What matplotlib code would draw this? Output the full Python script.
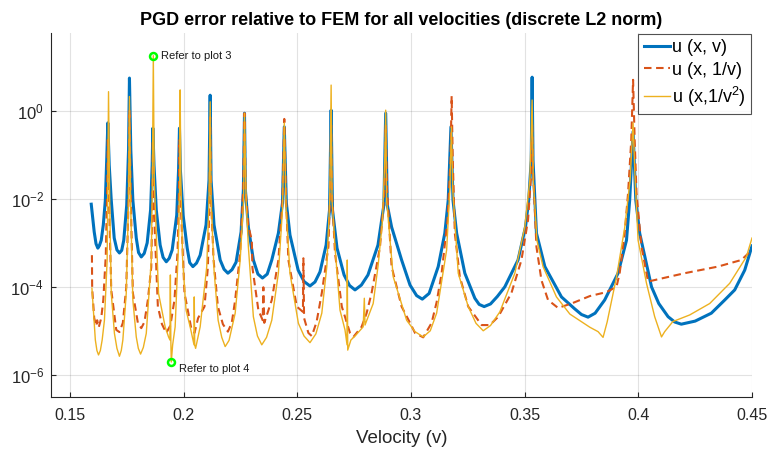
import numpy as np
import matplotlib
matplotlib.use('Agg')
import matplotlib.pyplot as plt
from matplotlib.ticker import NullLocator

plt.rcParams['font.family'] = ['Liberation Sans', 'DejaVu Sans']
plt.rcParams['mathtext.fontset'] = 'custom'
plt.rcParams['mathtext.rm'] = 'Liberation Sans'
plt.rcParams['mathtext.it'] = 'Liberation Sans:italic'
plt.rcParams['mathtext.bf'] = 'Liberation Sans:bold'

# ---- data: velocity and log10(error) ----
u_v_vel = [0.1594, 0.1607, 0.1615, 0.1623, 0.1630, 0.1638, 0.1647, 0.1656, 0.1662, 0.1667,
           0.1673, 0.1682, 0.1695, 0.1707, 0.1718, 0.1728, 0.1737, 0.1750, 0.1758, 0.1762,
           0.1768, 0.1777, 0.1792, 0.1802, 0.1814, 0.1827, 0.1840, 0.1855, 0.1862, 0.1865,
           0.1870, 0.1880, 0.1897, 0.1910, 0.1924, 0.1937, 0.1950, 0.1970, 0.1978, 0.1982,
           0.1986, 0.1998, 0.2016, 0.2027, 0.2041, 0.2057, 0.2073, 0.2099, 0.2112, 0.2117,
           0.2121, 0.2134, 0.2161, 0.2178, 0.2195, 0.2213, 0.2231, 0.2253, 0.2263, 0.2268,
           0.2272, 0.2285, 0.2307, 0.2327, 0.2347, 0.2368, 0.2388, 0.2417, 0.2435, 0.2443,
           0.2452, 0.2468, 0.2504, 0.2530, 0.2556, 0.2578, 0.2600, 0.2627, 0.2642, 0.2649,
           0.2655, 0.2675, 0.2706, 0.2730, 0.2754, 0.2782, 0.2811, 0.2855, 0.2881, 0.2889,
           0.2896, 0.2915, 0.2959, 0.2996, 0.3025, 0.3050, 0.3080, 0.3120, 0.3149, 0.3164,
           0.3176, 0.3185, 0.3201, 0.3237, 0.3281, 0.3300, 0.3322, 0.3350, 0.3380, 0.3413,
           0.3471, 0.3504, 0.3518, 0.3529, 0.3533, 0.3537, 0.3552, 0.3589, 0.3662, 0.3720,
           0.3750, 0.3779, 0.3810, 0.3852, 0.3911, 0.3948, 0.3962, 0.3977, 0.3989, 0.4006,
           0.4058, 0.4090, 0.4131, 0.4160, 0.4189, 0.4250, 0.4321, 0.4380, 0.4424, 0.4468,
           0.4500]
u_v_log = [-2.12, -2.75, -3.02, -3.12, -3.06, -2.94, -2.59, -2.03, -1.12, -0.27,
           -1.23, -2.03, -2.89, -3.16, -3.23, -3.17, -2.94, -2.14, -0.89, 0.75,
           -0.89, -2.03, -2.89, -3.22, -3.32, -3.24, -3.00, -2.25, -1.23, -0.39,
           -1.23, -2.25, -3.05, -3.33, -3.43, -3.35, -3.16, -2.37, -1.34, -0.39,
           -1.34, -2.37, -3.12, -3.45, -3.54, -3.46, -3.28, -2.59, -1.57, 0.36,
           -1.57, -2.59, -3.39, -3.60, -3.69, -3.61, -3.44, -2.75, -1.80, -0.05,
           -1.80, -2.64, -3.39, -3.71, -3.80, -3.71, -3.39, -2.78, -2.09, -0.36,
           -2.09, -2.82, -3.62, -3.88, -3.98, -3.89, -3.66, -3.05, -2.25, 0.02,
           -2.25, -3.12, -3.73, -3.97, -4.07, -3.96, -3.73, -3.05, -2.14, -0.05,
           -2.14, -2.64, -3.39, -3.96, -4.20, -4.28, -4.15, -3.54, -2.78, -2.03,
           -0.36, -2.03, -2.78, -3.69, -4.26, -4.40, -4.45, -4.39, -4.22, -4.00,
           -3.39, -2.63, -2.03, -1.12, 0.77, -1.12, -2.78, -3.54, -4.23, -4.50,
           -4.63, -4.69, -4.60, -4.30, -3.69, -2.94, -2.03, -0.47, -2.03, -2.78,
           -4.00, -4.38, -4.68, -4.80, -4.85, -4.78, -4.60, -4.30, -4.07, -3.62,
           -3.07]

u_inv_vel = [0.1597, 0.1598, 0.1607, 0.1616, 0.1620, 0.1627, 0.1638, 0.1647, 0.1658, 0.1664,
             0.1667, 0.1671, 0.1682, 0.1704, 0.1718, 0.1733, 0.1748, 0.1758, 0.1762, 0.1768,
             0.1777, 0.1799, 0.1814, 0.1828, 0.1843, 0.1858, 0.1863, 0.1865, 0.1868, 0.1887,
             0.1905, 0.1924, 0.1942, 0.1960, 0.1974, 0.1980, 0.1982, 0.1985, 0.2004, 0.2033,
             0.2048, 0.2064, 0.2092, 0.2107, 0.2114, 0.2117, 0.2121, 0.2132, 0.2151, 0.2173,
             0.2195, 0.2212, 0.2227, 0.2249, 0.2262, 0.2268, 0.2273, 0.2284, 0.2300, 0.2303,
             0.2329, 0.2348, 0.2351, 0.2355, 0.2388, 0.2417, 0.2435, 0.2443, 0.2451, 0.2461,
             0.2498, 0.2525, 0.2527, 0.2530, 0.2549, 0.2564, 0.2585, 0.2608, 0.2637, 0.2645,
             0.2649, 0.2652, 0.2666, 0.2696, 0.2732, 0.2747, 0.2783, 0.2805, 0.2827, 0.2864,
             0.2884, 0.2889, 0.2895, 0.2915, 0.2959, 0.2996, 0.3018, 0.3054, 0.3091, 0.3113,
             0.3135, 0.3161, 0.3174, 0.3179, 0.3184, 0.3193, 0.3215, 0.3252, 0.3311, 0.3347,
             0.3384, 0.3442, 0.3486, 0.3515, 0.3530, 0.3533, 0.3537, 0.3552, 0.3574, 0.3603,
             0.3647, 0.3706, 0.3787, 0.3860, 0.3904, 0.3918, 0.3940, 0.3955, 0.3969, 0.3977,
             0.3984, 0.3992, 0.4014, 0.4043, 0.4102, 0.4204, 0.4350, 0.4453, 0.4500]
u_inv_log = [-3.28, -4.03, -4.71, -4.89, -4.76, -4.92, -4.71, -4.30, -3.28, -1.80,
             -0.66, -1.80, -4.07, -4.98, -5.03, -4.82, -4.01, -2.03, 0.02, -2.03,
             -4.14, -4.82, -4.94, -4.80, -4.30, -3.55, -2.03, -0.66, -2.03, -4.45,
             -4.85, -5.05, -4.88, -4.30, -3.16, -1.80, -0.66, -1.80, -4.14, -4.92,
             -5.05, -4.71, -4.45, -3.55, -2.03, -0.14, -2.03, -3.39, -4.45, -4.85,
             -5.02, -4.82, -4.30, -3.23, -1.80, -0.05, -1.80, -2.59, -2.94, -3.57,
             -4.53, -4.76, -4.01, -4.82, -4.30, -3.39, -2.03, -0.18, -2.03, -3.39,
             -4.45, -4.57, -3.35, -4.71, -5.05, -5.12, -4.80, -4.14, -3.09, -1.80,
             -0.32, -1.80, -3.23, -4.45, -5.05, -5.14, -4.91, -4.60, -4.14, -3.09,
             -1.80, -0.32, -1.80, -3.54, -4.45, -4.82, -5.05, -5.15, -4.82, -4.35,
             -3.69, -2.48, -1.12, 0.34, -1.12, -2.78, -3.77, -4.45, -4.87, -4.87,
             -4.68, -4.14, -3.39, -2.48, -1.34, -0.32, -1.34, -3.09, -3.85, -4.30,
             -4.48, -4.38, -4.21, -4.12, -4.00, -3.69, -2.78, -1.87, -0.66, 0.71,
             -0.66, -1.87, -3.09, -3.88, -3.81, -3.69, -3.54, -3.39, -3.16]

u_inv2_vel = [0.1597, 0.1612, 0.1619, 0.1626, 0.1634, 0.1642, 0.1652, 0.1664, 0.1670, 0.1675,
              0.1682, 0.1696, 0.1707, 0.1718, 0.1726, 0.1733, 0.1748, 0.1758, 0.1762, 0.1767,
              0.1777, 0.1792, 0.1801, 0.1811, 0.1823, 0.1836, 0.1858, 0.1863, 0.1867, 0.1871,
              0.1890, 0.1919, 0.1934, 0.1940, 0.1942, 0.1944, 0.1946, 0.1952, 0.1963, 0.1977,
              0.1983, 0.1985, 0.1988, 0.1996, 0.2011, 0.2029, 0.2046, 0.2047, 0.2049, 0.2053,
              0.2073, 0.2102, 0.2112, 0.2117, 0.2121, 0.2134, 0.2152, 0.2168, 0.2183, 0.2200,
              0.2227, 0.2249, 0.2264, 0.2268, 0.2275, 0.2285, 0.2307, 0.2325, 0.2344, 0.2365,
              0.2388, 0.2417, 0.2435, 0.2443, 0.2451, 0.2468, 0.2505, 0.2530, 0.2556, 0.2582,
              0.2608, 0.2630, 0.2643, 0.2649, 0.2653, 0.2666, 0.2688, 0.2710, 0.2719, 0.2720,
              0.2722, 0.2736, 0.2754, 0.2790, 0.2795, 0.2798, 0.2834, 0.2856, 0.2875, 0.2885,
              0.2889, 0.2893, 0.2922, 0.2981, 0.3018, 0.3054, 0.3085, 0.3113, 0.3157, 0.3171,
              0.3178, 0.3184, 0.3208, 0.3252, 0.3286, 0.3318, 0.3350, 0.3391, 0.3457, 0.3501,
              0.3523, 0.3533, 0.3538, 0.3554, 0.3581, 0.3640, 0.3699, 0.3787, 0.3823, 0.3845,
              0.3863, 0.3904, 0.3940, 0.3964, 0.3977, 0.3986, 0.3999, 0.4036, 0.4072, 0.4102,
              0.4116, 0.4152, 0.4226, 0.4314, 0.4402, 0.4475, 0.4500]
u_inv2_log = [-4.03, -5.21, -5.45, -5.55, -5.45, -5.21, -4.76, -3.39, 0.44, -2.03,
              -4.15, -5.06, -5.40, -5.58, -5.45, -5.21, -4.14, -2.03, 0.33, -2.03,
              -4.30, -5.14, -5.40, -5.53, -5.38, -5.06, -3.39, -1.57, 1.26, -1.57,
              -4.15, -4.91, -5.14, -5.21, -3.73, -5.21, -5.71, -5.32, -4.91, -3.16,
              -1.57, 0.48, -1.57, -3.39, -4.53, -4.91, -5.32, -4.23, -5.32, -5.40,
              -4.91, -3.54, -2.03, 0.21, -2.03, -3.62, -4.76, -5.15, -5.36, -5.22,
              -4.60, -3.39, -2.03, -0.05, -2.03, -3.09, -4.68, -5.12, -5.32, -5.15,
              -4.76, -3.69, -2.25, -0.27, -2.25, -3.69, -4.83, -5.12, -5.27, -5.07,
              -4.60, -3.54, -2.03, 0.59, -2.03, -3.09, -4.53, -4.98, -5.32, -3.39,
              -5.44, -5.21, -5.12, -4.91, -4.26, -4.87, -4.38, -3.50, -2.48, -1.12,
              0.02, -2.03, -3.77, -4.76, -5.02, -5.14, -5.00, -4.60, -3.16, -1.80,
              -0.36, -1.80, -3.69, -4.45, -4.83, -5.00, -4.88, -4.57, -3.69, -2.63,
              -1.57, 0.25, -1.57, -2.94, -3.54, -4.23, -4.62, -4.92, -5.02, -5.15,
              -4.80, -3.78, -2.66, -1.57, -0.27, -1.57, -2.94, -3.92, -4.68, -5.14,
              -5.02, -4.79, -4.64, -4.38, -3.92, -3.32, -2.89]

note_vel = [0.1867, 0.1946]
note_log = [1.258, -5.711]
note_text = ['Refer to plot 3', 'Refer to plot 4']

legend_labels = ['u (x, v)', 'u (x, 1/v)', r'u (x,1/v$^2$)']
xtick_vals = [0.15, 0.2, 0.25, 0.3, 0.35, 0.4, 0.45]
xtick_labels = ['0.15', '0.2', '0.25', '0.3', '0.35', '0.4', '0.45']
ytick_exp = [-6, -4, -2, 0]

# ---- figure ----
fig = plt.figure(figsize=(7.68, 4.55), dpi=100)
ax = fig.add_axes([51 / 768, 58.3 / 455, 701 / 768, 363.7 / 455])

ax.plot(u_v_vel, 10 ** np.array(u_v_log), color='#0072BD', lw=2.2, label=legend_labels[0])
ax.plot(u_inv_vel, 10 ** np.array(u_inv_log), color='#D95319', lw=1.5,
        linestyle=(0, (3.6, 2.2)), label=legend_labels[1])
ax.plot(u_inv2_vel, 10 ** np.array(u_inv2_log), color='#EDB120', lw=1.0, label=legend_labels[2])

ax.set_yscale('log')
ax.set_xlim(0.1417, 0.45)
ax.set_ylim(10 ** -6.5, 10 ** 1.775)

ax.set_xticks(xtick_vals)
ax.set_xticklabels(xtick_labels)
ax.set_yticks([10.0 ** e for e in ytick_exp])
ax.set_yticklabels([r'$10^{%d}$' % e for e in ytick_exp])
ax.yaxis.set_minor_locator(NullLocator())
ax.tick_params(direction='in', length=3.5, width=0.8, colors='#262626', labelsize=11.5)
ax.tick_params(axis='x', pad=8)
ax.tick_params(axis='y', pad=5, labelsize=12)

for s in ['top', 'right']:
    ax.spines[s].set_visible(False)
for s in ['left', 'bottom']:
    ax.spines[s].set_color('#262626')
    ax.spines[s].set_linewidth(0.8)

ax.grid(True, color='#262626', alpha=0.13, lw=0.8)
ax.set_axisbelow(True)

ax.set_xlabel('Velocity (v)', fontsize=13.5, color='#262626', labelpad=5)
ax.set_title('PGD error relative to FEM for all velocities (discrete L2 norm)',
             fontsize=13, fontweight='bold', pad=6)

# annotations
for vel, lg, txt, dy in zip(note_vel, note_log, note_text, [0, -5]):
    ax.plot([vel], [10 ** lg], 'o', ms=5, mfc='none', mec='#00FF00', mew=1.8, zorder=5)
    ax.annotate(txt, (vel, 10 ** lg), xytext=(5.5, dy), textcoords='offset points',
                fontsize=8, va='center', ha='left', color='#1a1a1a')

leg = ax.legend(loc='upper right', fontsize=13, frameon=True, fancybox=False,
                borderaxespad=0.05, handlelength=1.45, handletextpad=0.15,
                labelspacing=0.32, borderpad=0.28)
leg.get_frame().set_edgecolor('#262626')
leg.get_frame().set_linewidth(0.8)

fig.savefig('out.png', dpi=100)
